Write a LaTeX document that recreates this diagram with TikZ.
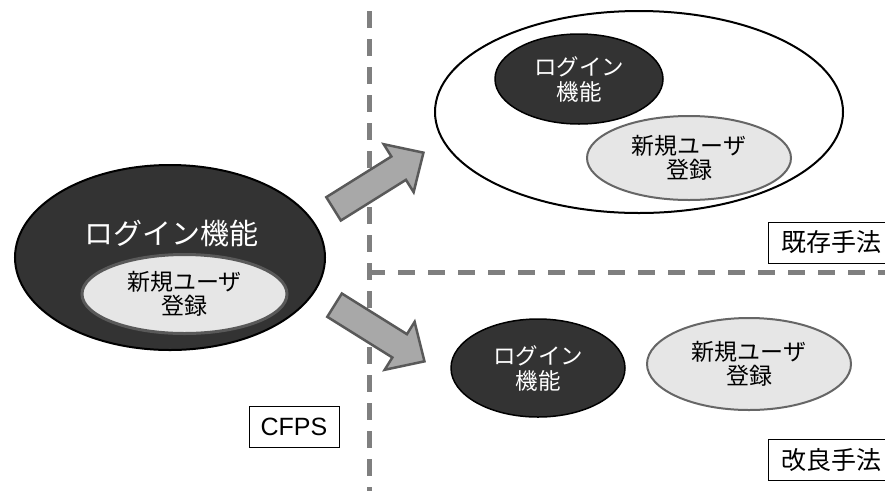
\documentclass[tikz,border=0pt]{standalone}
\usepackage{fontspec}
\setmainfont{Liberation Sans}
\newfontfamily\jp{Noto Sans CJK JP}
\usetikzlibrary{shapes.geometric,shapes.arrows}
\definecolor{darkfill}{HTML}{333333}
\definecolor{lightfill}{HTML}{E6E6E6}
\definecolor{lightline}{HTML}{666666}
\definecolor{arrowfill}{HTML}{A8A8A8}
\definecolor{arrowline}{HTML}{595959}
\definecolor{divgray}{HTML}{7F7F7F}
\begin{document}
\begin{tikzpicture}[x=1pt,y=-1pt,
  darkell/.style={ellipse, draw=black, line width=1.5pt, fill=darkfill, text=white, inner sep=0pt, align=center, font=\jp\fontsize{22.5}{25}\selectfont},
  lightell/.style={ellipse, draw=lightline, line width=2pt, fill=lightfill, inner sep=0pt, align=center, font=\jp\fontsize{23}{24}\selectfont},
  blockarrow/.style={single arrow, draw=arrowline, line width=2.5pt, fill=arrowfill, minimum height=106pt, minimum width=54pt, single arrow head extend=14.5pt, single arrow tip angle=88, inner xsep=0pt, inner ysep=12.5pt, anchor=tail},
  labelbox/.style={draw=black, line width=0.8pt, minimum height=41pt, inner sep=0pt},
  divider/.style={draw=divgray, line width=4.5pt, dash pattern=on 17pt off 11pt}
]
\useasboundingbox (0,0) rectangle (885,491);
% dividers
\coordinate (vtop) at (369.5,11);
\coordinate (vbot) at (369.5,491);
\coordinate (hl) at (368,272.5);
\coordinate (hr) at (890,272.5);
\draw[divider] (vtop) -- (vbot);
\draw[divider, dash pattern=on 17pt off 13pt] (hl) -- (hr);

% left: CFPS
\node[ellipse, draw=black, line width=2pt, fill=darkfill, minimum width=310pt, minimum height=185pt, inner sep=0pt] (cfpsouter) at (170,257.5) {};
\node[text=white, font=\jp\fontsize{29}{30}\selectfont, inner sep=0pt] (cfpslogin) at (171,233) {ログイン機能};
\node[lightell, line width=3pt, draw=arrowline, minimum width=205pt, minimum height=79pt] (cfpsreg) at (184.5,294) {新規ユーザ\\登録};
\node[labelbox, minimum width=90pt, font=\fontsize{25}{27}\selectfont] (cfps) at (294,426.5) {CFPS};

% top right: existing method
\node[ellipse, draw=black, line width=2pt, fill=white, minimum width=408pt, minimum height=202pt, inner sep=0pt] (exouter) at (639,112) {};
\node[darkell, minimum width=168pt, minimum height=90pt] (exlogin) at (579,79) {ログイン\\機能};
\node[lightell, minimum width=204pt, minimum height=84pt] (exreg) at (689,158) {新規ユーザ\\登録};
\node[labelbox, minimum width=126pt, font=\jp\fontsize{25}{27}\selectfont] (exist) at (831,242.5) {既存手法};

% bottom right: improved method
\node[darkell, minimum width=174pt, minimum height=98pt] (imlogin) at (538,368) {ログイン\\機能};
\node[lightell, minimum width=204pt, minimum height=92pt] (imreg) at (749,364) {新規ユーザ\\登録};
\node[labelbox, minimum width=126pt, font=\jp\fontsize{25}{27}\selectfont] (improved) at (831,460) {改良手法};

% arrows
\node[blockarrow, rotate=32] (arrup) at (332.5,209.5) {};
\node[blockarrow, rotate=-32] (arrdown) at (333.5,304.5) {};
\end{tikzpicture}
\end{document}
